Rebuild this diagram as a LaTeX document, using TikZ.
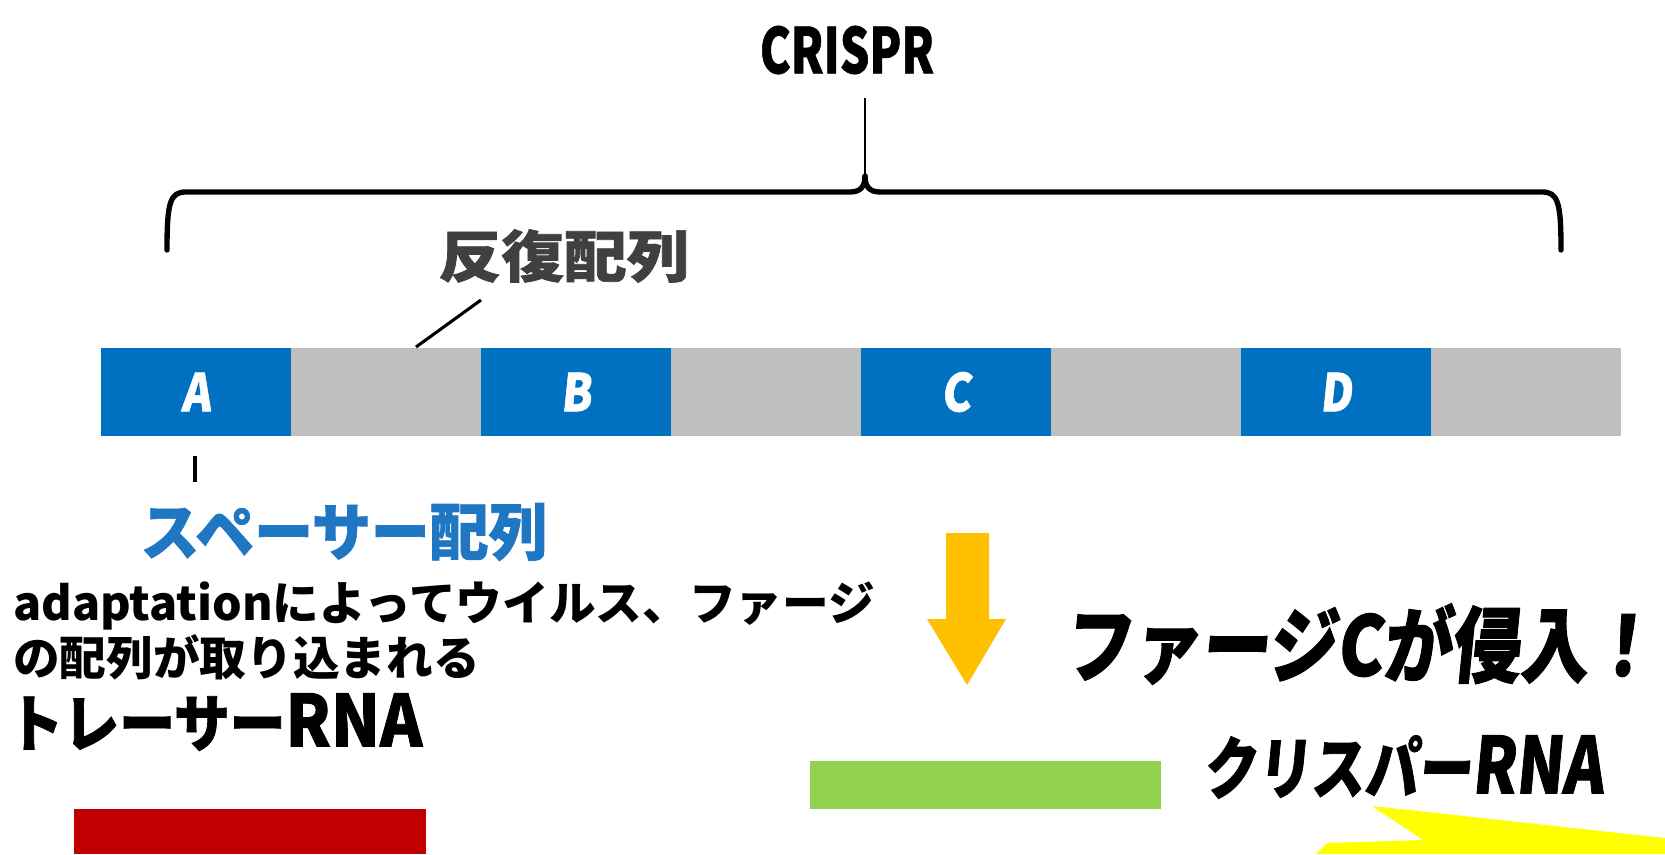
\documentclass[tikz,border=0pt]{standalone}
\usepackage{fontspec}
\usepackage{graphicx}
\newfontfamily\jp{Noto Sans CJK JP}
\newfontfamily\jphv{Noto Sans CJK JP}[FakeBold=1.2]
\newfontfamily\jpsl{Noto Sans CJK JP}[FakeSlant=0.12,FakeBold=1.2]
\definecolor{crblue}{HTML}{0070C0}
\definecolor{crgray}{HTML}{BFBFBF}
\definecolor{spblue}{HTML}{1F77C4}
\definecolor{repgray}{HTML}{404040}
\definecolor{arrorange}{HTML}{FFC000}
\definecolor{crgreen}{HTML}{92D050}
\definecolor{trred}{HTML}{C00000}
\definecolor{flashyellow}{HTML}{FFFF00}
\begin{document}
\begin{tikzpicture}[x=0.75pt,y=-0.75pt,
  seg/.style={inner sep=0pt,outer sep=0pt,minimum width=142.5pt,minimum height=66pt,anchor=north west,text=white},
  spacerseg/.style={seg,fill=crblue},
  repseg/.style={seg,fill=crgray},
  lbl/.style={inner sep=0pt,anchor=center},
  leader/.style={line width=2.3pt,black},
  bracebar/.style={line width=4pt,black,line cap=round},
  bracestem/.style={line width=2pt,black}]
\useasboundingbox (0,0) rectangle (1665,854);
\fill[white] (0,0) rectangle (1665,854);

% title
\node[lbl] (title) at (847,50) {\scalebox{0.74}[1]{\jphv\bfseries\fontsize{47}{47}\selectfont CRISPR}};

% brace
\draw[bracebar] (167,250) .. controls (167,202) and (170,192) .. (186,192) -- (850,192) .. controls (861,192) and (865,186) .. (865,176);
\draw[bracebar] (1561,250) .. controls (1561,202) and (1558,192) .. (1542,192) -- (880,192) .. controls (869,192) and (865,186) .. (865,176);
\draw[bracestem] (865,178) -- (865,98);

% repeat label
\node[lbl,text=repgray] (replbl) at (564,256) {\scalebox{1.12}[1]{\jphv\bfseries\fontsize{42}{42}\selectfont 反復配列}};

% bar
\def\segfont{\jpsl\bfseries\fontsize{39}{39}\selectfont}
\node[spacerseg] (sA) at (101,348) {\scalebox{0.85}[1]{\segfont A}};
\node[repseg]    (r1) at (291,348) {};
\node[spacerseg] (sB) at (481,348) {\scalebox{0.85}[1]{\segfont B}};
\node[repseg]    (r2) at (671,348) {};
\node[spacerseg] (sC) at (861,348) {\scalebox{0.85}[1]{\segfont C}};
\node[repseg]    (r3) at (1051,348) {};
\node[spacerseg] (sD) at (1241,348) {\scalebox{0.85}[1]{\segfont D}};
\node[repseg]    (r4) at (1431,348) {};

% leaders
\coordinate (repend) at (481,300);
\draw[leader] (repend) -- (416,347);
\coordinate (spA1) at (195,456);
\coordinate (spA2) at (195,482);
\draw[leader] (spA1) -- (spA2);

% spacer label
\node[lbl,text=spblue] (splbl) at (344,532) {\scalebox{0.95}[1]{\jphv\bfseries\fontsize{46.5}{46.5}\selectfont スペーサー配列}};

% body text
\node[inner sep=0pt,anchor=base west] (body1) at (13,620) {\jp\bfseries\fontsize{35}{35}\selectfont adaptationによってウイルス、ファージ};
\node[inner sep=0pt,anchor=base west] (body2) at (13,675) {\jp\bfseries\fontsize{35}{35}\selectfont の配列が取り込まれる};

% tracer RNA
\node[lbl] (trlbl) at (215,722) {\scalebox{0.9}[1]{\jphv\bfseries\fontsize{46.5}{46.5}\selectfont トレーサー{\fontsize{53.5}{53.5}\selectfont RNA}}};
\fill[trred] (74,809) rectangle (426,854);

% orange arrow
\fill[arrorange] (946,533) -- (989,533) -- (989,619) -- (1006,619) -- (967,685) -- (927,619) -- (946,619) -- cycle;

% phage label
\node[lbl] (phlbl) at (1360,644) {\scalebox{0.83}[1]{\jpsl\bfseries\fontsize{62}{62}\selectfont ファージCが侵入！}};

% crRNA
\fill[crgreen] (810,761) rectangle (1161,809);
\node[lbl] (crlbl) at (1403,767) {\scalebox{0.79}[1]{\jpsl\bfseries\fontsize{51}{51}\selectfont クリスパー{\fontsize{58.5}{58.5}\selectfont RNA}}};

% yellow flash
\fill[flashyellow] (1372,806) -- (1665,838) -- (1665,854) -- (1316,854) -- (1327,843) -- (1423,840) -- cycle;
\end{tikzpicture}
\end{document}
